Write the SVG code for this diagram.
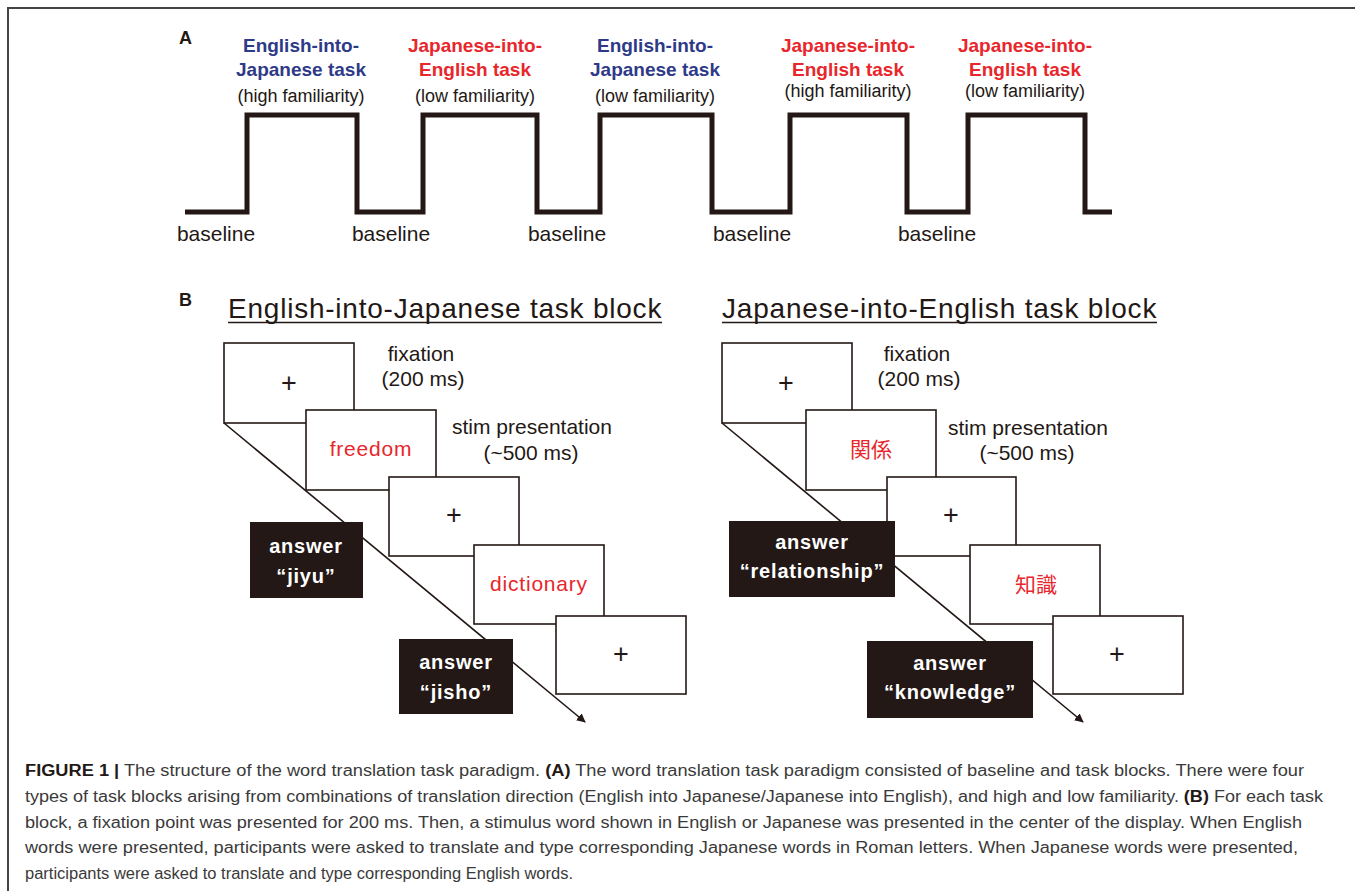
<svg xmlns="http://www.w3.org/2000/svg" width="1355" height="891" viewBox="0 0 1355 891">
<style>
.lab{font-family:"Liberation Sans",Arial,sans-serif;font-weight:bold;font-size:18px;fill:#231815;}
.blue{font-family:"Liberation Sans",Arial,sans-serif;font-weight:bold;font-size:19px;fill:#2e3a87;text-anchor:middle;}
.red{font-family:"Liberation Sans",Arial,sans-serif;font-weight:bold;font-size:19px;fill:#e8262b;text-anchor:middle;}
.fam{font-family:"Liberation Sans",Arial,sans-serif;font-size:18px;fill:#231815;text-anchor:middle;}
.base{font-family:"Liberation Sans",Arial,sans-serif;font-size:21px;fill:#231815;text-anchor:middle;}
.title{font-family:"Liberation Sans",Arial,sans-serif;font-size:28px;fill:#231815;letter-spacing:0.6px;}
.scr{fill:#fff;stroke:#231815;stroke-width:1.6;}
.ans{fill:#231815;}
.plus{font-family:"Liberation Sans",Arial,sans-serif;font-size:27px;fill:#231815;text-anchor:middle;}
.word{font-family:"Liberation Sans",Arial,sans-serif;font-size:21px;fill:#e8262b;text-anchor:middle;letter-spacing:0.8px;}
.jw{font-family:"Noto Sans CJK JP","Liberation Sans",sans-serif;font-size:21px;fill:#e8262b;text-anchor:middle;}
.at{font-family:"Liberation Sans",Arial,sans-serif;font-weight:bold;font-size:20px;fill:#fff;text-anchor:middle;letter-spacing:0.8px;}
.desc{font-family:"Liberation Sans",Arial,sans-serif;font-size:21px;fill:#231815;text-anchor:middle;}
.cap{font-family:"Liberation Sans",Arial,sans-serif;font-size:16px;fill:#3a3a3a;}
.conn{stroke:#231815;stroke-width:1.6;fill:none;}
</style>
<defs>
<marker id="arr" viewBox="0 0 10 10" refX="9" refY="5" markerWidth="9" markerHeight="9" markerUnits="userSpaceOnUse" orient="auto">
<path d="M0,0 L10,5 L0,10 z" fill="#231815"/>
</marker>
</defs>
<rect width="1355" height="891" fill="#fff"/>
<path d="M8,891 V8 H1355" fill="none" stroke="#444" stroke-width="2"/>

<!-- Panel A -->
<g id="panelA">
<text class="lab" x="179" y="44">A</text>
<path d="M185,212 H247 V115 H357 V212 H423 V115 H537 V212 H600 V115 H712 V212 H790 V115 H907 V212 H968 V115 H1085 V212 H1112" fill="none" stroke="#231815" stroke-width="5"/>
<g id="task1"><text class="blue" x="301" y="52">English-into-</text><text class="blue" x="301" y="76">Japanese task</text><text class="fam" x="301" y="102">(high familiarity)</text></g>
<g id="task2"><text class="red" x="475" y="52">Japanese-into-</text><text class="red" x="475" y="76">English task</text><text class="fam" x="475" y="102">(low familiarity)</text></g>
<g id="task3"><text class="blue" x="655" y="52">English-into-</text><text class="blue" x="655" y="76">Japanese task</text><text class="fam" x="655" y="102">(low familiarity)</text></g>
<g id="task4"><text class="red" x="848" y="52">Japanese-into-</text><text class="red" x="848" y="76">English task</text><text class="fam" x="848" y="97">(high familiarity)</text></g>
<g id="task5"><text class="red" x="1025" y="52">Japanese-into-</text><text class="red" x="1025" y="76">English task</text><text class="fam" x="1025" y="97">(low familiarity)</text></g>
<g id="baselines">
<text class="base" x="216" y="241">baseline</text>
<text class="base" x="391" y="241">baseline</text>
<text class="base" x="567" y="241">baseline</text>
<text class="base" x="752" y="241">baseline</text>
<text class="base" x="937" y="241">baseline</text>
</g>
</g>

<!-- Panel B -->
<text class="lab" x="179" y="306">B</text>
<g id="titleL"><text class="title" x="228" y="318" textLength="434">English-into-Japanese task block</text><line x1="228" y1="322.5" x2="662" y2="322.5" stroke="#231815" stroke-width="1.5"/></g>
<g id="titleR"><text class="title" x="722" y="318" textLength="435">Japanese-into-English task block</text><line x1="722" y1="322.5" x2="1157" y2="322.5" stroke="#231815" stroke-width="1.5"/></g>

<g id="connectors">
<line class="conn" x1="224" y1="423" x2="585" y2="722" marker-end="url(#arr)"/>
<line class="conn" x1="722" y1="423" x2="1083" y2="722" marker-end="url(#arr)"/>
</g>

<g id="L1"><rect class="scr" x="224" y="343" width="130" height="80"/><text class="plus" x="289" y="392">+</text></g>
<g id="L2"><rect class="scr" x="306" y="410" width="130" height="80"/><text class="word" x="371" y="456">freedom</text></g>
<g id="L3"><rect class="scr" x="389" y="477" width="130" height="79"/><text class="plus" x="454" y="524">+</text></g>
<g id="L4"><rect class="scr" x="474" y="545" width="130" height="79"/><text class="word" x="539" y="591">dictionary</text></g>
<g id="L5"><rect class="scr" x="556" y="616" width="130" height="78"/><text class="plus" x="621" y="663">+</text></g>
<g id="LA1"><rect class="ans" x="250" y="522" width="113" height="76"/><text class="at" x="306" y="553">answer</text><text class="at" x="306" y="583">“jiyu”</text></g>
<g id="LA2"><rect class="ans" x="399" y="639" width="114" height="75"/><text class="at" x="456" y="669">answer</text><text class="at" x="456" y="699">“jisho”</text></g>
<g id="Ldesc"><text class="desc" x="421" y="361">fixation</text><text class="desc" x="423" y="386">(200 ms)</text><text class="desc" x="532" y="434">stim presentation</text><text class="desc" x="531" y="460">(~500 ms)</text></g>

<g id="R1"><rect class="scr" x="722" y="343" width="130" height="80"/><text class="plus" x="786" y="392">+</text></g>
<g id="R2"><rect class="scr" x="806" y="410" width="130" height="80"/><text class="jw" x="871" y="457">関係</text></g>
<g id="R3"><rect class="scr" x="887" y="477" width="129" height="79"/><text class="plus" x="951" y="524">+</text></g>
<g id="R4"><rect class="scr" x="970" y="545" width="130" height="79"/><text class="jw" x="1036" y="592">知識</text></g>
<g id="R5"><rect class="scr" x="1053" y="616" width="130" height="78"/><text class="plus" x="1117" y="663">+</text></g>
<g id="RA1"><rect class="ans" x="729" y="521" width="166" height="76"/><text class="at" x="812" y="549">answer</text><text class="at" x="812" y="578">“relationship”</text></g>
<g id="RA2"><rect class="ans" x="867" y="641" width="166" height="77"/><text class="at" x="950" y="670">answer</text><text class="at" x="950" y="699">“knowledge”</text></g>
<g id="Rdesc"><text class="desc" x="917" y="361">fixation</text><text class="desc" x="919" y="386">(200 ms)</text><text class="desc" x="1028" y="435">stim presentation</text><text class="desc" x="1027" y="460">(~500 ms)</text></g>

<!-- Caption -->
<g id="caption">
<text class="cap" x="25" y="776" textLength="1279" lengthAdjust="spacingAndGlyphs"><tspan font-weight="bold" fill="#231815">FIGURE 1 |</tspan> The structure of the word translation task paradigm. <tspan font-weight="bold" fill="#231815">(A)</tspan> The word translation task paradigm consisted of baseline and task blocks. There were four</text>
<text class="cap" x="25" y="802" textLength="1298" lengthAdjust="spacingAndGlyphs">types of task blocks arising from combinations of translation direction (English into Japanese/Japanese into English), and high and low familiarity. <tspan font-weight="bold" fill="#231815">(B)</tspan> For each task</text>
<text class="cap" x="25" y="828" textLength="1277" lengthAdjust="spacingAndGlyphs">block, a fixation point was presented for 200 ms. Then, a stimulus word shown in English or Japanese was presented in the center of the display. When English</text>
<text class="cap" x="25" y="853" textLength="1273" lengthAdjust="spacingAndGlyphs">words were presented, participants were asked to translate and type corresponding Japanese words in Roman letters. When Japanese words were presented,</text>
<text class="cap" x="25" y="879" textLength="548" lengthAdjust="spacingAndGlyphs">participants were asked to translate and type corresponding English words.</text>
</g>
</svg>
